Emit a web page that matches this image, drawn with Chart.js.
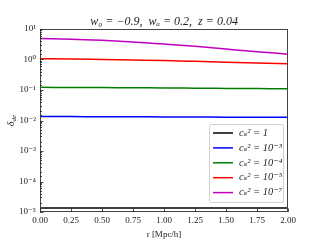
<!DOCTYPE html>
<html><head><meta charset="utf-8">
<script src="https://cdn.jsdelivr.net/npm/chart.js@4/dist/chart.umd.min.js"></script>
<style>html,body{margin:0;padding:0;background:#fff}#c{display:block}</style>
</head><body>
<canvas id="c" width="320" height="240"></canvas>
<script>
const rValues = [0, 0.25, 0.5, 0.75, 1.0, 1.25, 1.5, 1.75, 2.0];
const seriesLabels = ['cₛ² = 1', 'cₛ² = 10⁻³', 'cₛ² = 10⁻⁴', 'cₛ² = 10⁻⁵', 'cₛ² = 10⁻⁷'];
const cs1 = [1.35e-5, 1.35e-5, 1.35e-5, 1.35e-5, 1.35e-5, 1.35e-5, 1.35e-5, 1.35e-5, 1.35e-5];
const cs1e3 = [0.0135, 0.0134, 0.0133, 0.0132, 0.0131, 0.0130, 0.0129, 0.0128, 0.0127];
const cs1e4 = [0.122, 0.121, 0.120, 0.118, 0.117, 0.115, 0.113, 0.111, 0.109];
const cs1e5 = [1.06, 1.04, 1.00, 0.96, 0.92, 0.87, 0.82, 0.77, 0.72];
const cs1e7 = [4.86, 4.65, 4.25, 3.75, 3.2, 2.7, 2.2, 1.8, 1.5];
const xTicks = [0, 0.25, 0.5, 0.75, 1.0, 1.25, 1.5, 1.75, 2.0];
const titleText = 'w₀ = −0.9,  wₐ = 0.2,  z = 0.04';
const xTitle = 'r [Mpc/h]';
const colors = ['#000000', '#0000ff', '#008000', '#ff0000', '#bf00bf'];

const F = '"Liberation Serif", "DejaVu Serif", serif';
const allSeries = [cs1, cs1e3, cs1e4, cs1e5, cs1e7];
const supMap = {'-5':'⁻⁵','-4':'⁻⁴','-3':'⁻³','-2':'⁻²','-1':'⁻¹','0':'⁰','1':'¹'};

function isPow10(v){ const l = Math.log10(v); return Math.abs(l - Math.round(l)) < 1e-9; }

const decor = {
  id: 'decor',
  afterDraw(chart) {
    const ctx = chart.ctx, a = chart.chartArea;
    const xs = chart.scales.x, ys = chart.scales.y;
    ctx.save();
    // frame
    ctx.strokeStyle = '#444'; ctx.lineWidth = 1;
    ctx.strokeRect(Math.round(a.left)+0.5, Math.round(a.top)+0.5, Math.round(a.right-a.left)-1, Math.round(a.bottom-a.top)-1);
    // inward ticks
    ctx.strokeStyle = '#222'; ctx.lineWidth = 0.8;
    ctx.beginPath();
    xs.ticks.forEach(t => {
      const px = Math.round(xs.getPixelForValue(t.value)) + 0.5;
      ctx.moveTo(px, a.bottom); ctx.lineTo(px, a.bottom - 3.5);
    });
    ys.ticks.forEach(t => {
      const py = Math.round(ys.getPixelForValue(t.value)) + 0.5;
      const len = isPow10(t.value) ? 3.5 : 2;
      ctx.moveTo(a.left, py); ctx.lineTo(a.left + len, py);
    });
    ctx.stroke();
    // title
    ctx.fillStyle = '#222';
    ctx.font = 'italic 12px ' + F;
    ctx.textAlign = 'center'; ctx.textBaseline = 'alphabetic';
    ctx.fillText(titleText, (a.left + a.right) / 2, a.top - 4);
    // y axis title δ_de
    ctx.translate(11, (a.top + a.bottom) / 2);
    ctx.rotate(-Math.PI / 2);
    ctx.font = 'italic 10px ' + F;
    ctx.textAlign = 'left';
    const w1 = ctx.measureText('δ').width;
    ctx.font = 'italic 7px ' + F;
    const w2 = ctx.measureText('de').width;
    const x0 = -(w1 + w2) / 2;
    ctx.font = 'italic 10px ' + F;
    ctx.fillText('δ', x0, 3);
    ctx.font = 'italic 7px ' + F;
    ctx.fillText('de', x0 + w1, 5);
    ctx.restore();
    // legend
    ctx.save();
    const lx = a.right - 79, ly = a.bottom - 88, lw = 74, lh = 78;
    ctx.fillStyle = 'rgba(255,255,255,0.85)';
    ctx.strokeStyle = '#d0d0d0'; ctx.lineWidth = 1;
    ctx.beginPath();
    if (ctx.roundRect) ctx.roundRect(lx + 0.5, ly + 0.5, lw, lh, 2); else ctx.rect(lx + 0.5, ly + 0.5, lw, lh);
    ctx.fill(); ctx.stroke();
    chart.data.datasets.forEach((ds, i) => {
      const y = ly + 9 + i * 14.9;
      ctx.strokeStyle = ds.borderColor; ctx.lineWidth = 1.5;
      ctx.beginPath(); ctx.moveTo(lx + 4, y); ctx.lineTo(lx + 24, y); ctx.stroke();
      ctx.fillStyle = '#222'; ctx.font = 'italic 10.5px ' + F;
      ctx.textAlign = 'left'; ctx.textBaseline = 'middle';
      ctx.fillText(ds.label, lx + 30, y);
    });
    ctx.restore();
  }
};

new Chart(document.getElementById('c'), {
  type: 'line',
  data: {
    labels: rValues,
    datasets: allSeries.map((s, i) => ({
      label: seriesLabels[i],
      data: s.map((v, j) => ({x: rValues[j], y: v})),
      borderColor: colors[i],
      borderWidth: 1.5,
      pointRadius: 0,
      cubicInterpolationMode: 'monotone',
      fill: false
    }))
  },
  options: {
    responsive: false,
    animation: false,
    devicePixelRatio: 1,
    layout: { padding: { left: 0, right: 32, top: 29, bottom: 0 } },
    plugins: { legend: { display: false }, title: { display: false }, tooltip: { enabled: false } },
    scales: {
      x: {
        type: 'linear', min: 0, max: 2,
        afterBuildTicks: s => { s.ticks = xTicks.map(v => ({value: v})); },
        afterFit: s => { s.height = 28; },
        grid: { display: false, drawTicks: false },
        border: { display: false },
        ticks: { padding: 3, color: '#222', font: { family: F, size: 9 }, maxRotation: 0, autoSkip: false,
          callback: v => Number(v).toFixed(2) },
        title: { display: true, text: xTitle, color: '#222', font: { family: F, size: 9 }, padding: { top: 1, bottom: 0 } }
      },
      y: {
        type: 'logarithmic', min: 1e-5, max: 10,
        afterFit: s => { s.width = 40; },
        grid: { display: false, drawTicks: false },
        border: { display: false },
        ticks: { padding: 4, color: '#222', font: { family: F, size: 9 }, autoSkip: false,
          callback: v => isPow10(v) ? '10' + supMap[String(Math.round(Math.log10(v)))] : '' }
      }
    }
  },
  plugins: [decor]
});
</script>
</body></html>
